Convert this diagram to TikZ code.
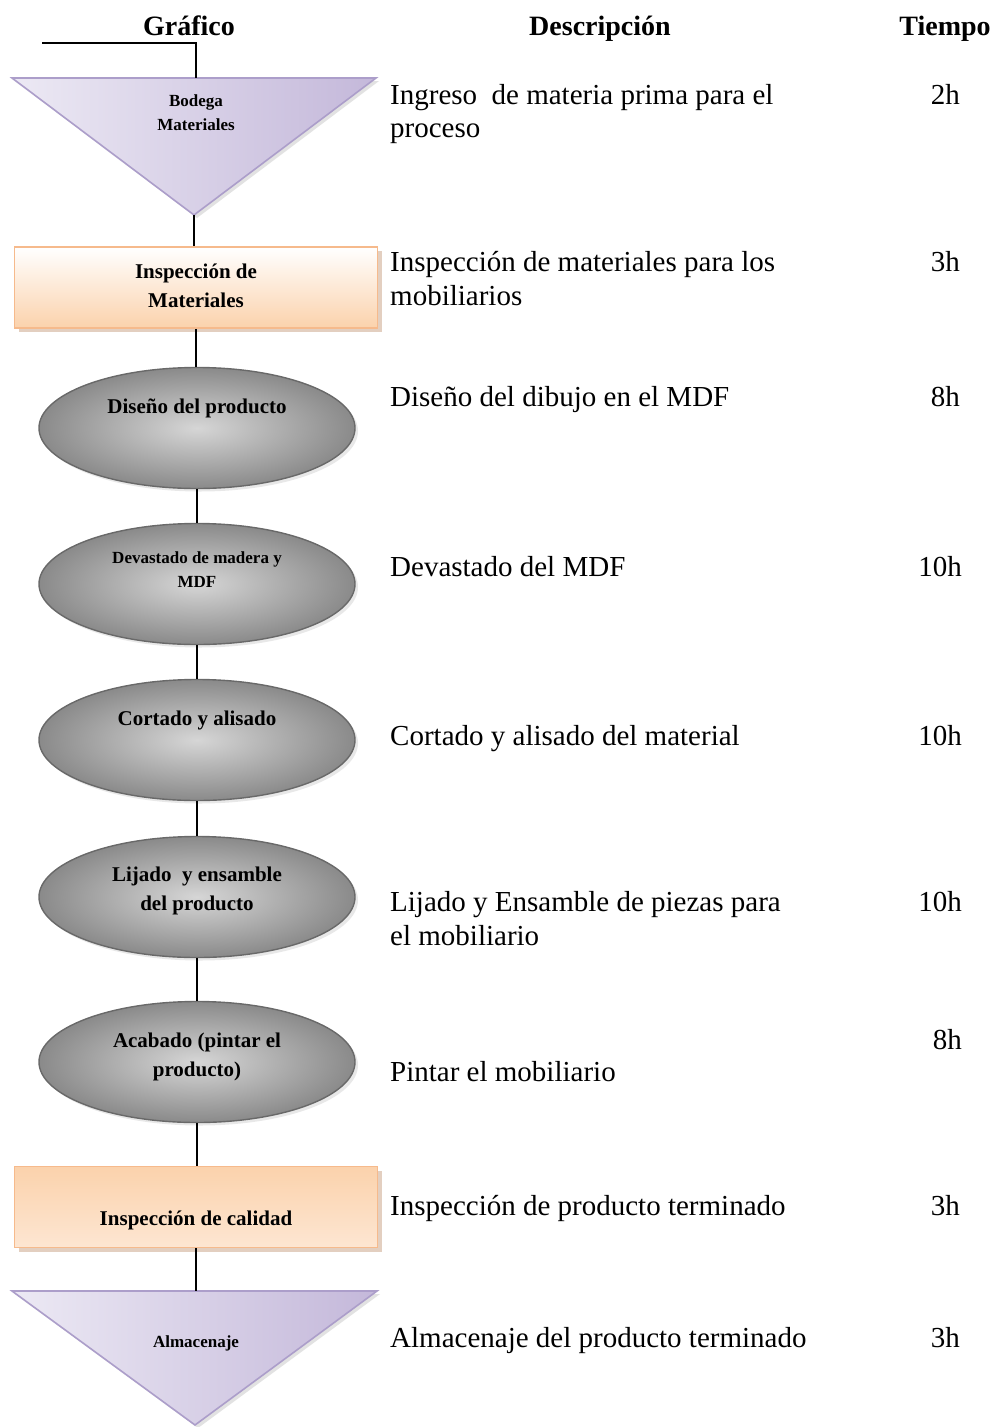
\documentclass[tikz,border=0pt]{standalone}
\usepackage{fontspec}
\setmainfont{Liberation Serif}
\usetikzlibrary{shapes.geometric,shadows}
\definecolor{triborder}{RGB}{172,158,202}
\definecolor{trilight}{RGB}{236,233,244}
\definecolor{tridark}{RGB}{196,184,218}
\definecolor{boxborder}{RGB}{246,186,140}
\definecolor{peach}{RGB}{251,210,172}
\definecolor{peachlight}{RGB}{253,230,210}
\definecolor{ovalin}{RGB}{214,214,214}
\definecolor{ovalout}{RGB}{138,138,138}
\definecolor{ovalborder}{RGB}{105,105,105}
\tikzset{
  conn/.style={draw=black, line width=1.4pt},
  tri/.style={draw=triborder, line width=1.6pt, left color=trilight, right color=tridark,
    drop shadow={shadow xshift=3pt, shadow yshift=-3pt, fill=gray!45}},
  boxA/.style={rectangle, minimum width=363pt, minimum height=81pt, draw=boxborder, line width=1.6pt,
    top color=white, bottom color=peach,
    drop shadow={shadow xshift=4pt, shadow yshift=-4pt, fill={rgb,255:red,200;green,160;blue,130}}},
  boxB/.style={boxA, top color=peach, bottom color=peachlight},
  oval/.style={ellipse, minimum width=316pt, minimum height=121pt, draw=ovalborder, line width=1.4pt,
    inner color=ovalin, outer color=ovalout,
    drop shadow={shadow xshift=3pt, shadow yshift=-3pt, fill=gray!35}},
  lbl/.style={font=\bfseries\fontsize{21}{29}\selectfont, align=center, inner sep=0pt},
  slbl/.style={font=\bfseries\fontsize{17}{24}\selectfont, align=center, inner sep=0pt},
  desc/.style={anchor=base west, font=\fontsize{29}{34}\selectfont, inner sep=0pt},
  tm/.style={anchor=base east, font=\fontsize{29}{34}\selectfont, inner sep=0pt},
  head/.style={anchor=base, font=\bfseries\fontsize{28}{34}\selectfont, inner sep=0pt}
}
\begin{document}
\begin{tikzpicture}[x=1pt,y=-1pt]
\useasboundingbox[fill=white] (0,0) rectangle (995,1427);
% headers
\node[head] (hg) at (189,35) {Gráfico};
\node[head] (hd) at (600,35) {Descripción};
\node[head] (ht) at (945,35) {Tiempo};
% top lead line
\coordinate (hl) at (42,43);
\coordinate (hc) at (196,43);
\coordinate (t1top) at (196,78);
% triangle 1
\coordinate (t1a) at (12,78);
\coordinate (t1b) at (376,78);
\coordinate (t1apex) at (194,215);
\path[tri] (t1a) -- (t1b) -- (t1apex) -- cycle;
\node[slbl] (n1) at (196,113) {Bodega\\Materiales};
% box 1
\node[boxA] (r1) at (196,287.5) {};
\node[lbl] (n2) at (196,286) {Inspección de\\Materiales};
% ovals
\node[oval] (e1) at (197,428) {};
\node[lbl] (n3) at (197,408) {Diseño del producto};
\node[oval] (e2) at (197,584) {};
\node[slbl] (n4) at (197,570) {Devastado de madera y\\MDF};
\node[oval] (e3) at (197,740) {};
\node[lbl] (n5) at (197,720) {Cortado y alisado};
\node[oval] (e4) at (197,897) {};
\node[lbl] (n6) at (197,891) {Lijado\ \ y ensamble\\del producto};
\node[oval] (e5) at (197,1062) {};
\node[lbl] (n7) at (197,1057) {Acabado (pintar el\\producto)};
% box 2
\node[boxB] (r2) at (196,1207) {};
\node[lbl] (n8) at (196,1220) {Inspección de calidad};
% triangle 2
\coordinate (t2a) at (12,1291);
\coordinate (t2b) at (377,1291);
\coordinate (t2apex) at (195,1425);
\coordinate (t2top) at (196,1291);
\path[tri] (t2a) -- (t2b) -- (t2apex) -- cycle;
\node[slbl] (n9) at (196,1343) {Almacenaje};
% connectors
\draw[conn] (hl) -- (hc) -- (t1top);
\draw[conn] (t1apex) -- (t1apex |- r1.north);
\draw[conn] (r1.south) -- (r1.south |- e1.north);
\draw[conn] (e1.south) -- (e2.north);
\draw[conn] (e2.south) -- (e3.north);
\draw[conn] (e3.south) -- (e4.north);
\draw[conn] (e4.south) -- (e5.north);
\draw[conn] (e5.south) -- (e5.south |- r2.north);
\draw[conn] (r2.south) -- (r2.south |- t2top);
% descriptions
\node[desc] (d1a) at (390,104) {Ingreso\ \ de materia prima para el};
\node[desc] (d1b) at (390,137) {proceso};
\node[tm] (m1) at (960,104) {2h};
\node[desc] (d2a) at (390,271) {Inspección de materiales para los};
\node[desc] (d2b) at (390,305) {mobiliarios};
\node[tm] (m2) at (960,271) {3h};
\node[desc] (d3) at (390,406) {Diseño del dibujo en el MDF};
\node[tm] (m3) at (960,406) {8h};
\node[desc] (d4) at (390,576) {Devastado del MDF};
\node[tm] (m4) at (962,576) {10h};
\node[desc] (d5) at (390,745) {Cortado y alisado del material};
\node[tm] (m5) at (962,745) {10h};
\node[desc] (d6a) at (390,911) {Lijado y Ensamble de piezas para};
\node[desc] (d6b) at (390,945) {el mobiliario};
\node[tm] (m6) at (962,911) {10h};
\node[desc] (d7) at (390,1081) {Pintar el mobiliario};
\node[tm] (m7) at (962,1049) {8h};
\node[desc] (d8) at (390,1215) {Inspección de producto terminado};
\node[tm] (m8) at (960,1215) {3h};
\node[desc] (d9) at (390,1347) {Almacenaje del producto terminado};
\node[tm] (m9) at (960,1347) {3h};
\end{tikzpicture}
\end{document}
